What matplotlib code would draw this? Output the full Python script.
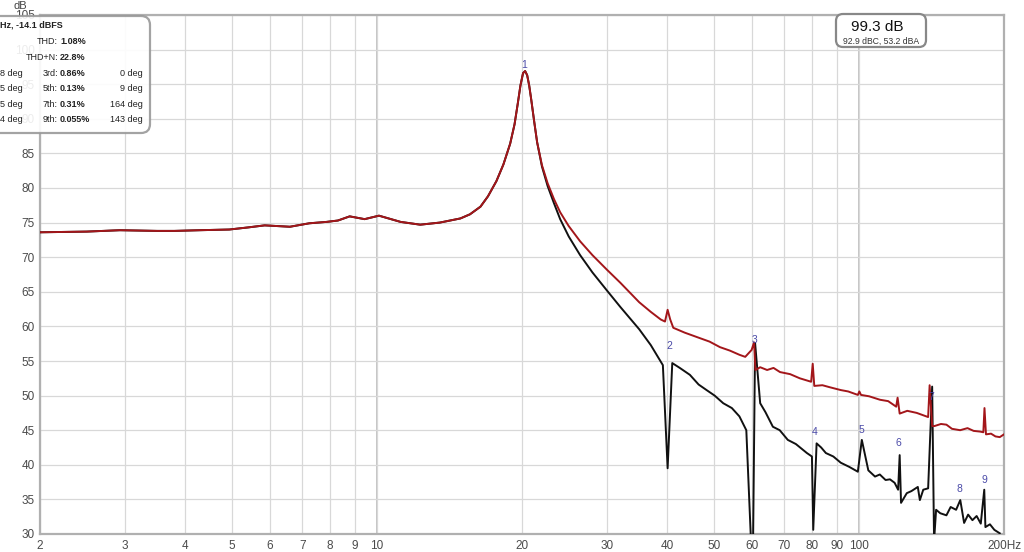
import matplotlib
matplotlib.use("Agg")
import matplotlib.pyplot as plt
from matplotlib.patches import FancyBboxPatch
from matplotlib.transforms import IdentityTransform

plt.rcParams["font.family"] = ["Liberation Sans", "DejaVu Sans"]

red_freq = [2.0, 2.5, 2.93, 3.5, 3.8, 4.29, 4.94, 5.4, 5.85, 6.6, 7.24, 7.86, 8.3,
            8.78, 9.43, 10.1, 11.2, 12.3, 13.5, 14.9, 15.6, 16.4, 17.0, 17.7, 18.3,
            18.9, 19.3, 19.6, 19.85, 20.1, 20.3, 20.5, 20.7, 20.9, 21.2, 21.5, 22.0,
            22.6, 23.3, 24.0, 25.0, 26.4, 28.0, 30.0, 32.0, 35.0, 37.0, 38.8,
            39.6, 40.1, 40.6, 41.2, 43.5, 46.8, 49.0, 51.5, 54.0, 56.5, 58.1,
            59.9, 60.6, 61.0, 62.4, 64.5, 66.5, 68.6, 72.0, 75.4, 79.6, 80.2, 80.8,
            84.0, 87.1, 91.7, 95.0, 99.5, 100.2, 101, 105.0, 110.6, 115.0, 119.5,
            120.3, 121.5, 126.0, 131.8, 139.2, 140.2, 141.9, 143.5, 148.0, 151.9,
            156.0, 162.2, 168.0, 173.0, 178.4, 181.2, 182.2, 183.5, 188.0, 192.0,
            196.0, 200.0]
red_db = [73.6, 73.7, 73.9, 73.8, 73.8, 73.9, 74.0, 74.3, 74.6, 74.4, 74.9, 75.1, 75.3,
          75.9, 75.5, 76.0, 75.1, 74.7, 75.0, 75.6, 76.2, 77.3, 78.8, 81.0, 83.4,
          86.4, 89.2, 92.2, 94.8, 96.6, 96.9, 96.3, 94.8, 92.8, 89.6, 86.6, 83.3,
          80.7, 78.4, 76.5, 74.5, 72.3, 70.3, 68.2, 66.3, 63.5, 62.1, 61.0,
          60.7, 62.4, 61.0, 59.8, 59.1, 58.3, 57.8, 57.0, 56.5, 55.9, 55.6,
          56.6, 57.7, 53.7, 54.1, 53.7, 54.0, 53.4, 53.1, 52.5, 52.0, 54.6, 51.4,
          51.5, 51.2, 50.8, 50.6, 50.1, 50.6, 50.1, 49.9, 49.4, 49.2, 48.4,
          49.7, 47.4, 47.8, 47.5, 46.9, 51.5, 45.6, 45.6, 45.9, 45.8,
          45.2, 45.0, 45.3, 44.9, 44.8, 44.7, 48.2, 44.4, 44.5, 44.1,
          44.0, 44.4]

# fundamental-only trace (black)
blk_freq = [2.0, 2.5, 2.93, 3.5, 3.8, 4.29, 4.94, 5.4, 5.85, 6.6, 7.24, 7.86, 8.3,
            8.78, 9.43, 10.1, 11.2, 12.3, 13.5, 14.9, 15.6, 16.4, 17.0, 17.7, 18.3,
            18.9, 19.3, 19.6, 19.85, 20.1, 20.3, 20.5, 20.7, 20.9, 21.2, 21.5, 22.0,
            22.6, 23.3, 24.0, 25.0, 26.4, 28.0, 30.0, 32.0, 35.0, 37.0, 39.2,
            40.1, 41.0, 42.5, 44.6, 46.5, 48.3, 50.2, 52.3, 54.5, 56.5, 58.4,
            59.8, 60.3, 60.9, 62.4, 64.0, 66.3, 68.5, 71.2, 74.0, 78.0, 79.9,
            80.4, 81.7, 83.5, 85.4, 88.5, 91.7, 95.5, 99.5, 101.4, 104.6,
            108.0, 110.5, 113.6, 116.0, 118.6, 120.6, 121.5, 122.3, 125.7, 128.5,
            132.5, 133.8, 136.0, 139.2, 141.9, 143.2, 144.6, 147.5, 151.9, 155.0,
            159.1, 162.3, 165.3, 168.5, 172.0, 175.5, 179.0, 182.0, 183.0, 187.0,
            191.0, 196.0]
blk_db = [73.6, 73.7, 73.9, 73.8, 73.8, 73.9, 74.0, 74.3, 74.6, 74.4, 74.9, 75.1, 75.3,
          75.9, 75.5, 76.0, 75.1, 74.7, 75.0, 75.6, 76.2, 77.3, 78.8, 81.0, 83.4,
          86.4, 89.2, 92.2, 94.8, 96.6, 96.9, 96.3, 94.8, 92.8, 89.6, 86.6, 83.1,
          80.3, 77.8, 75.5, 73.0, 70.3, 67.8, 65.2, 62.8, 59.6, 57.3, 54.4,
          39.5, 54.7, 54.0, 53.0, 51.6, 50.8, 50.0, 48.9, 48.2, 47.0, 45.0,
          28.0, 28.0, 57.6, 48.9, 47.6, 45.5, 45.0, 43.6, 43.0, 41.7, 41.2,
          30.6, 43.1, 42.5, 41.7, 41.2, 40.3, 39.7, 39.0, 43.6, 39.2,
          38.3, 38.6, 37.8, 37.9, 37.4, 36.4, 41.4, 34.5, 35.9, 36.2,
          36.8, 34.9, 36.4, 36.6, 51.3, 29.0, 33.5, 33.0, 32.7, 33.9,
          33.5, 34.9, 31.6, 32.8, 32.0, 32.6, 31.5, 36.4, 31.0, 31.4,
          30.6, 30.1]

# harmonic markers
harm_labels = ["1", "2", "3", "4", "5", "6", "7", "8", "9"]
harm_freq = [20.2, 40.4, 60.6, 80.8, 101, 121, 141, 162, 182]
harm_db = [97.8, 57.2, 58.0, 44.7, 45.0, 43.1, 49.8, 36.5, 37.8]

xticks = [2, 3, 4, 5, 6, 7, 8, 9, 10, 20, 30, 40, 50, 60, 70, 80, 90, 100, 200]
xticklabels = ["2", "3", "4", "5", "6", "7", "8", "9", "10", "20", "30", "40", "50",
               "60", "70", "80", "90", "100", "200Hz"]
yticks = list(range(30, 106, 5))

W, H = 1024, 552
fig = plt.figure(figsize=(W / 100, H / 100), dpi=100)
ax = fig.add_axes([40 / W, 18 / H, 964 / W, 519 / H])

ax.plot(blk_freq, blk_db, color="#111111", lw=1.4, zorder=3)
ax.plot(red_freq, red_db, color="#a3161a", lw=1.4, zorder=4)

for lab, f, d in zip(harm_labels, harm_freq, harm_db):
    ax.text(f, d, lab, color="#4a4aa8", fontsize=7.5, ha="center", va="center", zorder=5)

ax.set_xscale("log")
ax.set_xlim(2, 200)
ax.set_ylim(30, 105)
ax.set_xticks(xticks)
ax.set_xticklabels(xticklabels)
ax.xaxis.set_minor_locator(matplotlib.ticker.NullLocator())
ax.set_yticks(yticks)
ax.tick_params(length=0, labelsize=8.5, colors="#4a4a4a", pad=4)
ax.grid(True, color="#d8d8d8", lw=0.9)
for f in [10, 100]:
    ax.axvline(f, color="#b4b4b4", lw=1.1, zorder=1)
for s in ax.spines.values():
    s.set_color("#b0b0b0")
    s.set_linewidth(1.6)

fig.text(20 / W, 1 - 6 / H, "dB", fontsize=8, color="#444444", ha="center", va="center")

idt = IdentityTransform()
# info box top-left (runs off the left edge)
fig.patches.append(FancyBboxPatch((-20, H - 133), 170, 117,
                                  boxstyle="round,pad=0,rounding_size=9",
                                  transform=idt, facecolor="white", alpha=0.9,
                                  edgecolor="#999999", lw=1.6, figure=fig))
def px(x, y, s, **kw):
    fig.text(x / W, 1 - y / H, s, va="center", fontsize=6.5, color="#222222", **kw)

px(0, 25, "Hz, -14.1 dBFS", ha="left", weight="bold")
rows = [("THD:", "1.08%", "", ""), ("THD+N:", "22.8%", "", ""),
        ("3rd:", "0.86%", "8 deg", "0 deg"), ("5th:", "0.13%", "5 deg", "9 deg"),
        ("7th:", "0.31%", "5 deg", "164 deg"), ("9th:", "0.055%", "4 deg", "143 deg")]
for i, (name, val, left, right) in enumerate(rows):
    y = 42 + i * 15.6
    px(58, y, name, ha="right")
    px(60, y, val, ha="left", weight="bold")
    if left:
        px(23, y, left, ha="right")
    if right:
        px(143, y, right, ha="right")

# level box top-right
fig.patches.append(FancyBboxPatch((836, H - 47), 90, 33,
                                  boxstyle="round,pad=0,rounding_size=7",
                                  transform=idt, facecolor="white",
                                  edgecolor="#888888", lw=1.6, figure=fig))
fig.text(877 / W, 1 - 27 / H, "99.3 dB", fontsize=11, color="#111111",
         ha="center", va="center")
fig.text(881 / W, 1 - 41 / H, "92.9 dBC, 53.2 dBA", fontsize=6.2, color="#333333",
         ha="center", va="center")

fig.savefig("out.png", dpi=100)
